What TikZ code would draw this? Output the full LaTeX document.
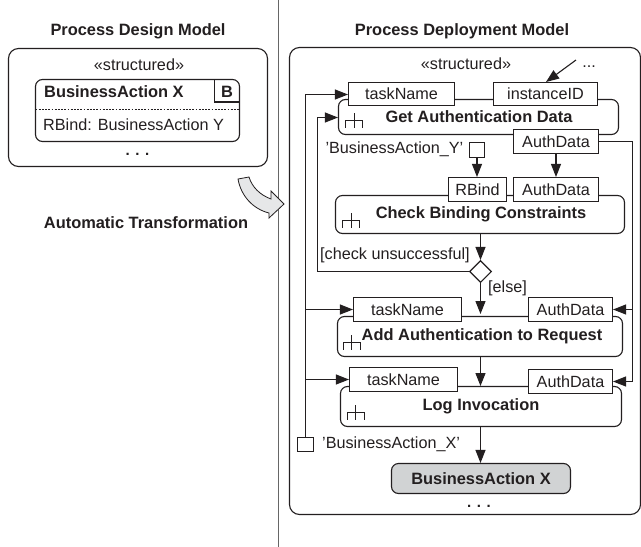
\documentclass[tikz,border=0pt]{standalone}
\usepackage{fontspec}
\setmainfont{Liberation Sans}
\usetikzlibrary{arrows.meta,shapes.geometric,calc}
\definecolor{ink}{HTML}{231F20}
\definecolor{actgray}{HTML}{D1D3D4}
\definecolor{fatgray}{HTML}{E6E7E8}
\newcommand{\bx}[7][]{%
  \pgfmathsetmacro{\cxv}{(#3+#5)/2}\pgfmathsetmacro{\cyv}{(#4+#6)/2}%
  \pgfmathsetmacro{\wv}{#5-#3}\pgfmathsetmacro{\hv}{#6-#4}%
  \node[#1,minimum width=\wv pt,minimum height=\hv pt] (#2) at (\cxv,\cyv) {#7};}
\newcommand{\forkicon}[2]{%
  \draw[icon] (#1,#2) -- ++(0,-7) -- ++(17,0) -- ++(0,7) (#1+8.5,#2) -- ++(0,-15);}
\tikzset{
  outerbox/.style={draw=ink,line width=1.1pt,rounded corners=10pt,inner sep=0pt},
  action/.style={draw=ink,line width=1.1pt,rounded corners=7pt,fill=white,inner sep=0pt},
  pin/.style={draw=ink,line width=1.1pt,fill=white,inner sep=0pt,text=ink,font=\fontsize{16.2}{18}\selectfont},
  flow/.style={draw=ink,line width=1.1pt,-{Triangle[length=13pt,width=10pt]}},
  plain/.style={draw=ink,line width=1.1pt},
  lbl/.style={inner sep=0pt,text=ink,font=\fontsize{16.2}{18}\selectfont},
  blbl/.style={inner sep=0pt,text=ink,font=\fontsize{16.4}{18}\bfseries\selectfont},
  dotsl/.style={inner sep=0pt,text=ink,anchor=base,font=\fontsize{15}{18}\bfseries\selectfont},
  icon/.style={draw=ink,line width=0.8pt},
}
\begin{document}
\begin{tikzpicture}[x=1pt,y=-1pt]
\useasboundingbox (0,0) rectangle (641,547);
\fill[white] (0,0) rectangle (641,547);
% divider
\draw[draw=gray!80!black,line width=0.9pt] (278.5,0) -- (278.5,547);
% titles
\node[blbl] (t1) at (138,31) {Process Design Model};
\node[blbl] (t2) at (462,31) {Process Deployment Model};
\node[blbl] (t3) at (146,223) {Automatic Transformation};
% left panel
\bx[outerbox]{lp}{8.5}{48.5}{267.5}{166.5}{}
\node[lbl] (ls) at (139,65) {«structured»};
\bx[action]{ba}{35.5}{79.5}{239.5}{141.5}{}
\draw[plain] (214.5,79.5) -- (214.5,102) -- (239.5,102);
\draw[draw=ink,line width=0.8pt,dash pattern=on 1.8pt off 1.4pt] (35.5,109.5) -- (239.5,109.5);
\node[blbl,anchor=west] (bal) at (44,92) {BusinessAction X};
\node[blbl] (bb) at (227,92) {B};
\node[lbl,anchor=west] (brb) at (43,125) {RBind: BusinessAction Y};
\node[dotsl] (ld) at (137.5,155) {. . .};
% fat arrow
\draw[draw=ink,line width=0.8pt,fill=fatgray] (238,179) -- (249,177)
  .. controls (252,187) and (260,195) .. (271,199) -- (271,191) -- (284,204) -- (269,218) -- (269,213)
  .. controls (253,209) and (241,196) .. cycle;
% right panel
\bx[outerbox]{rp}{289.5}{47.5}{640.5}{514.5}{}
\node[lbl] (rs) at (466,64) {«structured»};
\node[lbl,anchor=base] (rd) at (589,67) {...};
% action boxes
\bx[action]{get}{338.5}{99.5}{618.5}{134.5}{}
\bx[action]{chk}{335.5}{195.5}{624.5}{233.5}{}
\bx[action]{add}{337.5}{316.5}{622.5}{356.5}{}
\bx[action]{log}{340.5}{386.5}{621.5}{426.5}{}
\bx[action,fill=actgray,blbl]{bx}{391.5}{463.5}{570.5}{493.5}{BusinessAction X}
\node[blbl] (getl) at (479,117) {Get Authentication Data};
\node[blbl] (chkl) at (481,214) {Check Binding Constraints};
\node[blbl] (addl) at (482,336) {Add Authentication to Request};
\node[blbl] (logl) at (481,406) {Log Invocation};
\forkicon{345.5}{127.5}
\forkicon{342.5}{227.5}
\forkicon{343}{349.5}
\forkicon{347}{419.5}
% pins
\bx[pin]{tn1}{348.5}{82.5}{454.5}{105.5}{taskName}
\bx[pin]{iid}{493.5}{82.5}{597.5}{105.5}{instanceID}
\bx[pin]{ad1}{513.5}{129.5}{598.5}{153.5}{AuthData}
\bx[pin]{rb}{448.5}{177.5}{506.5}{201.5}{RBind}
\bx[pin]{ad2}{513.5}{177.5}{598.5}{201.5}{AuthData}
\bx[pin]{tn2}{353.5}{297.5}{461.5}{321.5}{taskName}
\bx[pin]{ad3}{528.5}{297.5}{612.5}{321.5}{AuthData}
\bx[pin]{tn3}{349.5}{367.5}{457.5}{391.5}{taskName}
\bx[pin]{ad4}{528.5}{369.5}{612.5}{393.5}{AuthData}
\bx[pin]{sq1}{469.5}{142.5}{484.5}{157.5}{}
\bx[pin]{sq2}{297.5}{437.5}{313.5}{451.5}{}
\node[draw=ink,line width=1.1pt,fill=white,diamond,aspect=1,inner sep=0pt,minimum width=22pt,minimum height=22pt] (dec) at (480.5,271.5) {};
% labels
\node[lbl,anchor=east] (by) at (463.5,149) {\symbol{39}BusinessAction\_Y\symbol{39}};
\node[lbl,anchor=west] (bxl) at (322,444) {\symbol{39}BusinessAction\_X\symbol{39}};
\node[lbl,anchor=west] (cu) at (320,255) {[check unsuccessful]};
\node[lbl,anchor=west] (el) at (488,288) {[else]};
\node[dotsl] (rdd) at (479,507.5) {. . .};
% connectors
\coordinate (inst) at (576,60);
\coordinate (iidt) at (546,82);
\coordinate (tn1w) at ([yshift=-0.5pt]tn1.west);
\draw[flow] (inst) -- (iidt);
\draw[flow] (sq2.north) |- (tn1w);
\draw[flow] (dec.west) -| (317.5,117.5) -- (get.west |- 0,117.5);
\coordinate (jb) at (sq2.north |- tn2.west);
\coordinate (jc) at (sq2.north |- tn3.west);
\draw[flow] (jb) -- (tn2.west);
\draw[flow] (jc) -- (tn3.west);
\coordinate (rr) at (632.5,141.5);
\draw[plain] (ad1.east) -- (rr) -- (rr |- ad4.east);
\draw[flow] (rr |- ad3.east) -- (ad3.east);
\draw[flow] (rr |- ad4.east) -- (ad4.east);
\draw[flow] (sq1.south) -- (sq1.south |- rb.north);
\draw[flow] (ad1.south) -- (ad2.north);
\draw[flow] (chk.south -| dec.north) -- (dec.north);
\draw[flow] (dec.south) -- (dec.south |- 0,314);
\draw[flow] (add.south -| dec.north) -- (dec.north |- 0,386);
\draw[flow] (log.south -| dec.north) -- (bx.north -| dec.north);
\end{tikzpicture}
\end{document}
